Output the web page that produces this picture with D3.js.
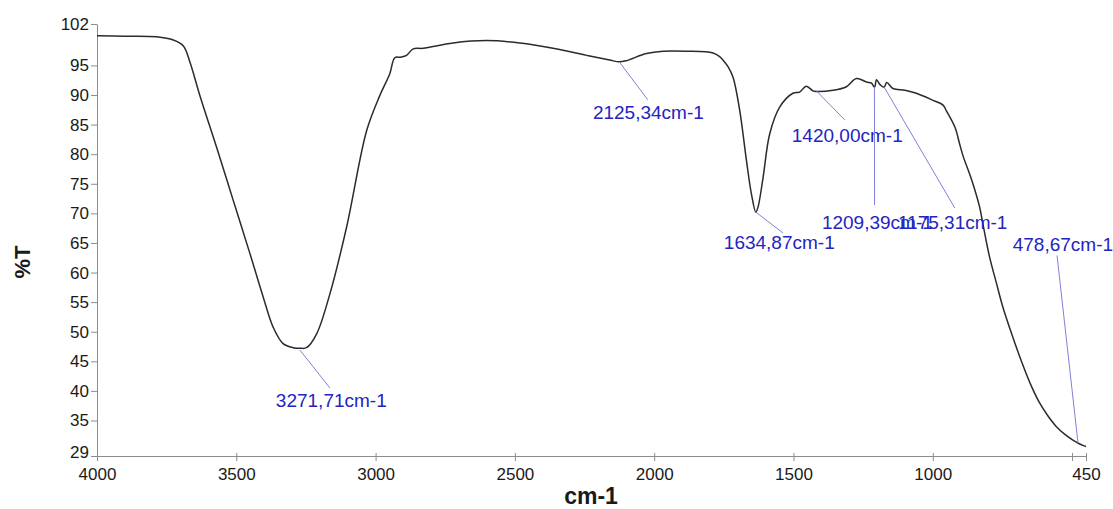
<!DOCTYPE html>
<html>
<head>
<meta charset="utf-8">
<script src="https://cdn.jsdelivr.net/npm/d3@7"></script>
<style>
  body { margin: 0; background: #fff; }
  #chart { width: 1113px; height: 509px; }
</style>
</head>
<body>
<div id="chart"></div>
<script>
// spectrum (wavenumber cm-1, %T)
const wavenumber = [4000, 3900, 3786, 3726, 3690, 3666, 3630, 3571, 3511, 3451, 3403, 3367, 3332, 3296, 3271, 3248, 3212, 3164, 3104, 3032, 2985, 2949, 2931, 2910, 2889, 2865, 2829, 2722, 2602, 2482, 2363, 2243, 2160, 2125, 2100, 2028, 1968, 1884, 1789, 1765, 1753, 1735, 1717, 1693, 1669, 1651, 1635, 1627, 1609, 1585, 1549, 1502, 1478, 1454, 1430, 1420, 1358, 1310, 1274, 1238, 1220, 1209, 1202, 1190, 1175, 1165, 1143, 1100, 1059, 999, 963, 952, 920, 904, 892, 860, 832, 820, 796, 772, 748, 712, 676, 646, 617, 587, 557, 527, 497, 479, 461, 450];
const transmittance = [100.0, 99.95, 99.85, 99.3, 98.3, 95.5, 89.8, 81.2, 72.2, 63.2, 55.8, 50.7, 48.0, 47.3, 47.2, 47.3, 49.6, 56.4, 67.7, 84.0, 89.9, 93.6, 96.3, 96.4, 96.7, 97.8, 97.9, 98.8, 99.2, 98.8, 97.9, 96.7, 95.9, 95.6, 95.8, 97.0, 97.4, 97.4, 97.1, 96.5, 95.9, 94.8, 93.0, 87.4, 79.0, 73.3, 70.2, 71.1, 76.1, 83.5, 88.0, 90.3, 90.5, 91.5, 90.7, 90.6, 90.8, 91.4, 92.8, 92.2, 92.0, 91.3, 92.6, 91.8, 91.3, 92.1, 91.1, 90.8, 90.3, 89.1, 88.3, 87.4, 84.5, 81.8, 79.8, 75.6, 71.1, 68.2, 62.6, 58.3, 54.1, 49.0, 44.3, 40.8, 38.0, 35.8, 34.0, 32.7, 31.7, 31.2, 30.8, 30.6];

// peak annotations
const peakLabels = ["3271,71cm-1", "2125,34cm-1", "1634,87cm-1", "1420,00cm-1", "1209,39cm-1", "1175,31cm-1", "478,67cm-1"];
const peakWn = [3271.71, 2125.34, 1634.87, 1420.00, 1209.39, 1175.31, 478.67];
const peakT = [46.9, 95.6, 70.2, 90.8, 91.4, 91.4, 31.2];
// where each leader line ends and where its label starts, in data units
const leaderEnd = [[3164, 40.5], [2023, 89.2], [1538, 66.7], [1316, 85.8], [1209, 71.4], [921, 70.9], [554, 62.9]];
const labelAt = [[3358, 38.3], [2220, 87.1], [1750, 65.0], [1506, 83.2], [1398, 68.4], [1125, 68.4], [713, 64.7]];

const xTicks = [4000, 3500, 3000, 2500, 2000, 1500, 1000, 500, 450];
const xTickLabels = ["4000", "3500", "3000", "2500", "2000", "1500", "1000", "", "450"];
const yTicks = [102, 95, 90, 85, 80, 75, 70, 65, 60, 55, 50, 45, 40, 35, 29];

const width = 1113, height = 509;
const axisColor = "#8c8c8c";

const svg = d3.select("#chart").append("svg")
    .attr("width", width)
    .attr("height", height)
    .style("font-family", "Arial, 'Liberation Sans', sans-serif");

const x = d3.scaleLinear().domain([4000, 450]).range([97, 1086]);
const y = d3.scaleLinear().domain([29, 102]).range([456, 24]);

// y axis
const yAxis = svg.append("g")
    .attr("transform", `translate(${x(4000)},0)`)
    .call(d3.axisLeft(y).tickValues(yTicks).tickSize(6).tickSizeOuter(0).tickPadding(2));
yAxis.select(".domain").attr("stroke", axisColor);
yAxis.selectAll(".tick line").attr("stroke", axisColor);
yAxis.selectAll("text").attr("fill", "#1a1a1a").style("font-size", "17px");
// the bottom label sits a little higher, as in the original
yAxis.selectAll(".tick").filter(d => d === 29).select("text").attr("dy", "0.1em");

// x axis
const xAxis = svg.append("g")
    .attr("transform", `translate(0,${y(29)})`)
    .call(d3.axisBottom(x).tickValues(xTicks).tickFormat((d, i) => xTickLabels[i]).tickSize(5).tickSizeOuter(0).tickPadding(7));
xAxis.select(".domain").attr("stroke", axisColor);
xAxis.selectAll(".tick line").attr("stroke", axisColor).attr("y1", -3);
xAxis.selectAll("text").attr("fill", "#1a1a1a").style("font-size", "17px");

// axis titles
svg.append("text")
    .attr("transform", `translate(30,262) rotate(-90)`)
    .attr("text-anchor", "middle")
    .style("font-size", "22px")
    .style("font-weight", "bold")
    .attr("fill", "#1a1a1a")
    .text("%T");

svg.append("text")
    .attr("x", 591)
    .attr("y", 504)
    .attr("text-anchor", "middle")
    .style("font-size", "23px")
    .style("font-weight", "bold")
    .attr("fill", "#1a1a1a")
    .text("cm-1");

// spectrum
const points = wavenumber.map((w, i) => [w, transmittance[i]]);
const line = d3.line()
    .x(d => x(d[0]))
    .y(d => y(d[1]))
    .curve(d3.curveCatmullRom.alpha(0.5));

svg.append("path")
    .datum(points)
    .attr("fill", "none")
    .attr("stroke", "#2b2b2b")
    .attr("stroke-width", 1.5)
    .attr("d", line);

// annotations
peakLabels.forEach((lab, i) => {
  svg.append("line")
      .attr("x1", x(peakWn[i]))
      .attr("y1", y(peakT[i]))
      .attr("x2", x(leaderEnd[i][0]))
      .attr("y2", y(leaderEnd[i][1]))
      .attr("stroke", "#8080dd")
      .attr("stroke-width", 1);
  svg.append("text")
      .attr("x", x(labelAt[i][0]))
      .attr("y", y(labelAt[i][1]))
      .attr("dominant-baseline", "central")
      .style("font-size", "19px")
      .attr("fill", "#2424c0")
      .text(lab);
});
</script>
</body>
</html>
